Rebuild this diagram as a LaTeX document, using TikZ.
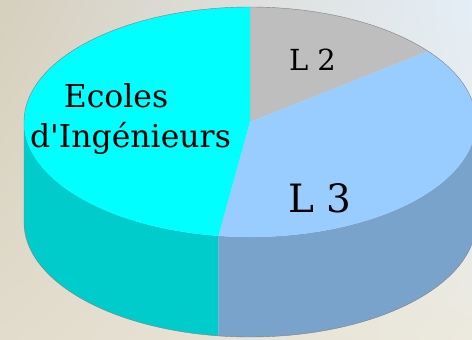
\documentclass[tikz,border=0pt]{standalone}
\usepackage{fontspec}
\setmainfont{DejaVu Serif}
\usetikzlibrary{shadings}
\definecolor{ecoletop}{RGB}{0,255,255}
\definecolor{ecoleside}{RGB}{0,204,204}
\definecolor{ldeuxtop}{RGB}{190,190,190}
\definecolor{ltroistop}{RGB}{153,204,255}
\definecolor{ltroisside}{RGB}{122,163,204}
\definecolor{edge}{RGB}{128,128,128}
\definecolor{bgul}{RGB}{214,207,190}
\definecolor{bgur}{RGB}{228,238,247}
\definecolor{bgll}{RGB}{226,220,204}
\definecolor{bglr}{RGB}{236,233,222}
\begin{document}
\begin{tikzpicture}[x=1pt,y=1pt,
    label/.style={inner sep=0pt, anchor=base, text=black}]

  % Background
  \shade[upper left=bgul, upper right=bgur, lower left=bgll, lower right=bglr]
    (0,0) rectangle (472,340);
  \clip (0,0) rectangle (472,340);

  \coordinate (top) at (250,218);
  \coordinate (bot) at (250,118);

  % Sides
  \fill[ecoleside] (top) ++(180:226 and 115) arc[start angle=180, end angle=262, x radius=226, y radius=115]
    -- ++(0,-100) arc[start angle=262, end angle=180, x radius=226, y radius=115] -- cycle;
  \fill[ltroisside] (top) ++(262:226 and 115) arc[start angle=262, end angle=360, x radius=226, y radius=115]
    -- ++(0,-100) arc[start angle=360, end angle=262, x radius=226, y radius=115] -- cycle;

  % Slices
  \fill[ldeuxtop] (top) -- ++(38:226 and 115) arc[start angle=38, end angle=90, x radius=226, y radius=115] -- cycle;
  \fill[ecoletop] (top) -- ++(90:226 and 115) arc[start angle=90, end angle=262, x radius=226, y radius=115] -- cycle;
  \fill[ltroistop] (top) -- ++(262:226 and 115) arc[start angle=262, end angle=398, x radius=226, y radius=115] -- cycle;

  % Outline
  \draw[edge, line width=0.4pt] (top) ++(0:226 and 115) arc[start angle=0, end angle=180, x radius=226, y radius=115]
    -- ++(0,-100) arc[start angle=180, end angle=360, x radius=226, y radius=115];

  % Labels
  \node[label, font=\fontsize{31.5}{36}\selectfont] (ecoles) at (116,232) {Ecoles};
  \node[label, font=\fontsize{31.5}{36}\selectfont] (ingenieurs) at (130.5,192) {d\textquotesingle Ingénieurs};
  \node[label, font=\fontsize{29}{36}\selectfont] (ldeux) at (312.5,269) {L 2};
  \node[label, font=\fontsize{39}{46}\selectfont] (ltrois) at (320,127) {L 3};

\end{tikzpicture}
\end{document}
